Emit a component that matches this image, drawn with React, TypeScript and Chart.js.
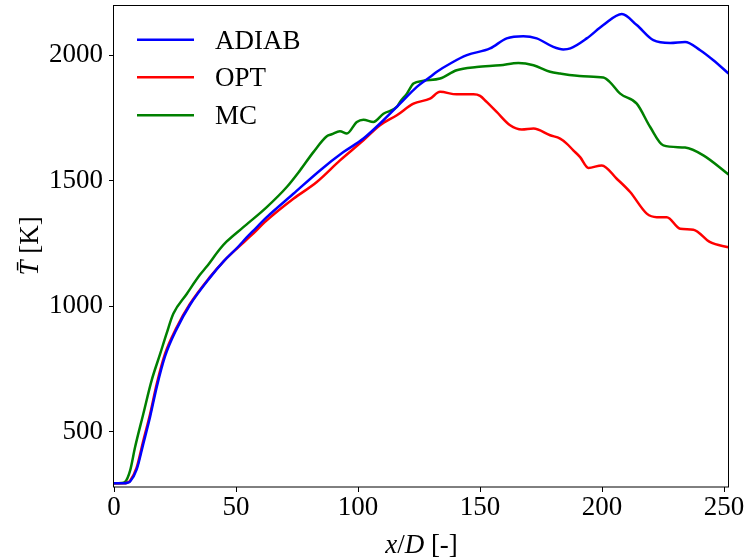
import React, { useEffect, useRef } from "react";
import { Chart, registerables } from "chart.js";
Chart.register(...registerables);

const FONT = "Liberation Serif";

const seriesLabels = ["ADIAB", "OPT", "MC"];
const seriesColors = ["#0000ff", "#ff0000", "#008000"];

const xTicks = [0, 50, 100, 150, 200, 250];
const yTicks = [500, 1000, 1500, 2000];

const adiabX = [0, 4, 5.5, 6.6, 9.3, 12.0, 14.8, 17.5, 20.9, 25.7, 31.1, 39.3, 45, 50.9, 53.0, 57, 62.6, 73.5, 84.4, 94.0, 102.2, 110.4, 117.2, 124.1, 129.5, 132.3, 138, 144.6, 154.1, 160.9, 167.7, 173.2, 180.0, 184.1, 187, 193.7, 200.5, 208.1, 214.2, 221.0, 227.9, 234.0, 240.2, 245.6, 251.8];
const adiabT = [295, 295, 297, 302, 350, 452, 560, 678, 800, 910, 1005, 1114, 1180, 1237, 1260, 1300, 1355, 1448, 1541, 1614, 1668, 1741, 1807, 1874, 1913, 1934, 1968, 2000, 2027, 2067, 2076, 2067, 2033, 2023, 2027, 2067, 2120, 2164, 2120, 2060, 2049, 2053, 2020, 1980, 1927];

const optX = [0, 4, 5.5, 6.6, 9.3, 12.0, 14.8, 17.5, 20.9, 25.7, 31.1, 39.3, 45, 50.9, 56, 62.6, 73.5, 83.1, 92.6, 102.2, 109.0, 115.9, 122.7, 129.5, 133.6, 140.4, 147.3, 150, 152.7, 156.8, 162.3, 167.1, 171.9, 178.7, 182.8, 185.5, 188.2, 191.0, 194.4, 199.9, 206.0, 211.5, 218.3, 222.4, 226.5, 232.0, 237.4, 244.3, 251.8];
const optT = [295, 295, 298, 305, 358, 464, 571, 690, 810, 916, 1009, 1116, 1180, 1235, 1280, 1342, 1428, 1495, 1581, 1661, 1721, 1761, 1807, 1827, 1854, 1844, 1844, 1838, 1814, 1774, 1721, 1704, 1708, 1681, 1668, 1648, 1621, 1594, 1551, 1561, 1508, 1455, 1369, 1355, 1355, 1309, 1305, 1255, 1235];

const mcX = [0, 3, 4.5, 6.6, 8.6, 12.0, 15.4, 18.9, 21.5, 24.3, 29.8, 35.2, 38.0, 43.4, 46.2, 53.0, 62.6, 70.8, 76.2, 81.7, 87.2, 89.2, 92.6, 95.4, 99.5, 102.2, 106.3, 110.4, 115.9, 117.2, 120.0, 122.7, 126.8, 133.6, 140.4, 148.6, 158.2, 165.7, 171.9, 178.7, 182.8, 192.3, 200.5, 203, 207.4, 214.2, 219.7, 225.1, 234.0, 241.5, 251.8];
const mcT = [295, 296, 300, 345, 437, 571, 704, 810, 890, 970, 1049, 1125, 1158, 1228, 1258, 1315, 1395, 1475, 1541, 1614, 1677, 1685, 1697, 1688, 1734, 1743, 1734, 1767, 1794, 1814, 1847, 1887, 1898, 1907, 1940, 1953, 1960, 1969, 1960, 1934, 1927, 1916, 1911, 1895, 1847, 1807, 1714, 1641, 1632, 1601, 1525];

const seriesX = [adiabX, optX, mcX];
const seriesT = [adiabT, optT, mcT];

export default function App() {
  const ref = useRef<HTMLCanvasElement>(null);
  useEffect(() => {
    document.body.style.margin = "0";
    const canvas = ref.current;
    if (!canvas) return;

    const decor = {
      id: "decor",
      afterDraw(chart: any) {
        const ctx = chart.ctx as CanvasRenderingContext2D;
        const a = chart.chartArea;
        ctx.save();
        ctx.strokeStyle = "#000";
        ctx.lineWidth = 1;
        ctx.strokeRect(Math.round(a.left) - 0.5, Math.round(a.top) + 0.5, Math.round(a.right - a.left), Math.round(a.bottom - a.top) - 0.5);
        const rows = [39.7, 77.3, 115.3];
        chart.data.datasets.forEach((ds: any, i: number) => {
          const y = rows[i];
          ctx.strokeStyle = ds.borderColor;
          ctx.lineWidth = 2.5;
          ctx.beginPath();
          ctx.moveTo(137, y);
          ctx.lineTo(194, y);
          ctx.stroke();
          ctx.fillStyle = "#000";
          ctx.font = `27px "${FONT}"`;
          ctx.textAlign = "left";
          ctx.textBaseline = "alphabetic";
          ctx.fillText(ds.label, 215, y + 9);
        });
        const parts: [string, boolean][] = [["x", true], ["/", false], ["D", true], [" [-]", false]];
        const fontOf = (it: boolean) => `${it ? "italic " : ""}27px "${FONT}"`;
        let total = 0;
        parts.forEach(([t, it]) => { ctx.font = fontOf(it); total += ctx.measureText(t).width; });
        const cx = (a.left + a.right) / 2;
        let x = cx - total / 2;
        ctx.textAlign = "left";
        ctx.textBaseline = "alphabetic";
        parts.forEach(([t, it]) => { ctx.font = fontOf(it); ctx.fillText(t, x, 553); x += ctx.measureText(t).width; });
        const yparts: [string, boolean][] = [["T\u0304", true], [" [K]", false]];
        let ytot = 0;
        yparts.forEach(([t, it]) => { ctx.font = fontOf(it); ytot += ctx.measureText(t).width; });
        ctx.translate(38, (a.top + a.bottom) / 2);
        ctx.rotate(-Math.PI / 2);
        let yx = -ytot / 2;
        yparts.forEach(([t, it]) => { ctx.font = fontOf(it); ctx.fillText(t, yx, 0); yx += ctx.measureText(t).width; });
        ctx.restore();
      },
    };

    const chart = new Chart(canvas, {
      type: "line",
      data: {
        datasets: seriesLabels.map((label, i) => ({
          label,
          data: seriesX[i].map((x, j) => ({ x, y: seriesT[i][j] })),
          borderColor: seriesColors[i],
          backgroundColor: seriesColors[i],
          borderWidth: 2.5,
          pointRadius: 0,
          cubicInterpolationMode: "monotone" as const,
          fill: false,
        })),
      },
      options: {
        responsive: false,
        animation: false,
        layout: { padding: { left: 0, top: 5, right: 19, bottom: 0 } },
        plugins: { legend: { display: false }, tooltip: { enabled: false } },
        scales: {
          x: {
            type: "linear",
            min: 0,
            max: 252,
            afterBuildTicks: (s: any) => { s.ticks = xTicks.map((v) => ({ value: v })); },
            afterFit: (s: any) => { s.height = 73; s.paddingLeft = 0; s.paddingRight = 0; },
            border: { display: false },
            grid: { drawOnChartArea: false, drawTicks: true, tickLength: 5, color: "#000", lineWidth: 1 },
            ticks: { color: "#000", font: { family: FONT, size: 27 }, padding: 0, maxRotation: 0, callback: (v: any) => String(v) },
          },
          y: {
            type: "linear",
            min: 280,
            max: 2200,
            afterBuildTicks: (s: any) => { s.ticks = yTicks.map((v) => ({ value: v })); },
            afterFit: (s: any) => { s.width = 114; s.paddingTop = 0; s.paddingBottom = 0; },
            border: { display: false },
            grid: { drawOnChartArea: false, drawTicks: true, tickLength: 5, color: "#000", lineWidth: 1 },
            ticks: { color: "#000", font: { family: FONT, size: 27 }, padding: 6, callback: (v: any) => String(v) },
          },
        },
      },
      plugins: [decor],
    });
    return () => chart.destroy();
  }, []);
  return (
    <div style={{ position: "absolute", left: 0, top: 0, width: 748, height: 560 }}>
      <canvas ref={ref} width={748} height={560} style={{ display: "block" }} />
    </div>
  );
}
